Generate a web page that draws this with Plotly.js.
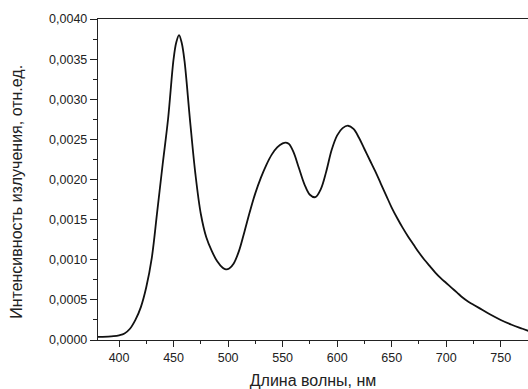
<!DOCTYPE html>
<html>
<head>
<meta charset="utf-8">
<script src="https://cdn.plot.ly/plotly-3.0.1.min.js"></script>
<style>html,body{margin:0;padding:0;background:#fff}#chart{width:528px;height:389px}</style>
</head>
<body>
<div id="chart"></div>
<script>
var wavelength = [380, 385, 390, 395, 400, 405, 410, 415, 420, 425, 430, 435, 440, 445, 450, 452.5, 455, 457.5, 460, 465, 470, 475, 480, 485, 490, 495, 498, 501, 505, 510, 515, 520, 525, 530, 535, 540, 545, 550, 553, 556, 560, 565, 570, 575, 580, 585, 590, 595, 600, 605, 610, 615, 620, 625, 630, 635, 640, 645, 650, 655, 660, 665, 670, 675, 680, 685, 690, 695, 700, 705, 710, 715, 720, 725, 730, 740, 750, 760, 770, 776];
var intensity = [0.00004, 0.00004, 0.000042, 0.000047, 0.000058, 0.00008, 0.00014, 0.00025, 0.00041, 0.00066, 0.00102, 0.00160, 0.00219, 0.00276, 0.00350, 0.00371, 0.00380, 0.00370, 0.00348, 0.00275, 0.00207, 0.00157, 0.00128, 0.00111, 0.00098, 0.00090, 0.00088, 0.00089, 0.00095, 0.00111, 0.00135, 0.00160, 0.00183, 0.00202, 0.00218, 0.00231, 0.00240, 0.00245, 0.00246, 0.00244, 0.00234, 0.00214, 0.00194, 0.00181, 0.00178, 0.00188, 0.00210, 0.00237, 0.00255, 0.00264, 0.00267, 0.00263, 0.00252, 0.00238, 0.00224, 0.00210, 0.00195, 0.00180, 0.00165, 0.00152, 0.00140, 0.00129, 0.00119, 0.00109, 0.00100, 0.00092, 0.00084, 0.00077, 0.00071, 0.00065, 0.00059, 0.00053, 0.00048, 0.00044, 0.00040, 0.00032, 0.00025, 0.00019, 0.00014, 0.00011];
var xTitle = "Длина волны, нм";
var yTitle = "Интенсивность излучения, отн.ед.";

var trace = {
  x: wavelength, y: intensity, type: "scatter", mode: "lines",
  line: {color: "#111", width: 1.8, shape: "spline", smoothing: 1},
  hoverinfo: "skip"
};
var layout = {
  width: 528, height: 389,
  margin: {l: 98, r: 0, t: 19, b: 49},
  paper_bgcolor: "#fff", plot_bgcolor: "#fff",
  separators: ", ",
  showlegend: false,
  font: {family: "Liberation Sans, Arial, sans-serif", size: 12.5, color: "#222"},
  xaxis: {
    range: [380.7, 775], tickvals: [400, 450, 500, 550, 600, 650, 700, 750],
    ticks: "outside", ticklen: 6, tickwidth: 1, tickcolor: "#222",
    showline: true, linecolor: "#222", linewidth: 1.2, mirror: true,
    showgrid: false, zeroline: false,
    minor: {tickvals: [425, 475, 525, 575, 625, 675, 725, 775], ticks: "outside", ticklen: 3, tickcolor: "#222", showgrid: false},
    tickfont: {size: 12.5, color: "#222"},
    title: {text: xTitle, font: {size: 16, color: "#222"}, standoff: 10}
  },
  yaxis: {
    range: [0, 0.004], dtick: 0.0005, tick0: 0, tickformat: ".4f",
    ticks: "outside", ticklen: 7, tickwidth: 1, tickcolor: "#222",
    showline: true, linecolor: "#222", linewidth: 1.2,
    showgrid: false, zeroline: false,
    minor: {dtick: 0.00025, ticks: "outside", ticklen: 4, tickcolor: "#222", showgrid: false},
    tickfont: {size: 12.5, color: "#222"}
  },
  annotations: [{
    text: yTitle, xref: "paper", yref: "paper", x: -0.188, y: 0.462,
    xanchor: "center", yanchor: "middle", textangle: -90, showarrow: false,
    font: {size: 16, color: "#222"}
  }]
};
Plotly.newPlot("chart", [trace], layout, {staticPlot: true, displayModeBar: false});
</script>
</body>
</html>
